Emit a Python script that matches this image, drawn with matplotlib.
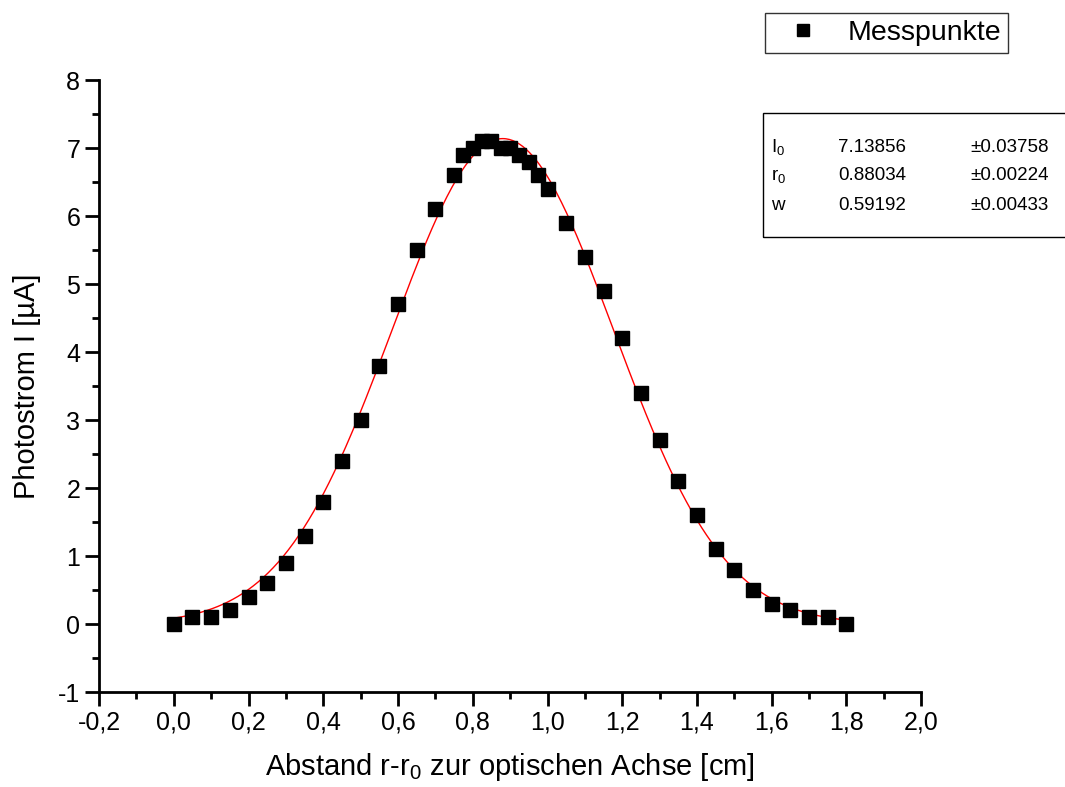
import matplotlib.pyplot as plt
import numpy as np
from matplotlib.ticker import MultipleLocator, FuncFormatter
from matplotlib.patches import Rectangle

plt.rcParams['font.family'] = ['Liberation Sans', 'DejaVu Sans']
plt.rcParams['mathtext.default'] = 'regular'

# Messpunkte
r = [0.0, 0.05, 0.1, 0.15, 0.2, 0.25, 0.3, 0.35, 0.4, 0.45, 0.5, 0.55, 0.6, 0.65,
     0.7, 0.75, 0.775, 0.8, 0.825, 0.85, 0.875, 0.9, 0.925, 0.95, 0.975, 1.0,
     1.05, 1.1, 1.15, 1.2, 1.25, 1.3, 1.35, 1.4, 1.45, 1.5, 1.55, 1.6, 1.65,
     1.7, 1.75, 1.8]
I = [0.0, 0.1, 0.1, 0.2, 0.4, 0.6, 0.9, 1.3, 1.8, 2.4, 3.0, 3.8, 4.7, 5.5,
     6.1, 6.6, 6.9, 7.0, 7.1, 7.1, 7.0, 7.0, 6.9, 6.8, 6.6, 6.4,
     5.9, 5.4, 4.9, 4.2, 3.4, 2.7, 2.1, 1.6, 1.1, 0.8, 0.5, 0.3, 0.2,
     0.1, 0.1, 0.0]

# Fitparameter (Gauss)
param_names = ['I$_0$', 'r$_0$', 'w']
param_values = [7.13856, 0.88034, 0.59192]
param_errors = [0.03758, 0.00224, 0.00433]
I0, r0, w = param_values

fig = plt.figure(figsize=(10.65, 7.87), dpi=100)
ax = fig.add_axes([0.093, 0.1207, 0.772, 0.7776])

rr = np.linspace(0, 1.8, 400)
ax.plot(rr, I0 * np.exp(-2 * (rr - r0) ** 2 / w ** 2), color='red', lw=1.0, zorder=2)
ax.plot(r, I, 's', color='black', markersize=9.5, label='Messpunkte', zorder=3)

ax.set_xlim(-0.2, 2.0)
ax.set_ylim(-1, 8)
ax.xaxis.set_major_locator(MultipleLocator(0.2))
ax.xaxis.set_minor_locator(MultipleLocator(0.1))
ax.yaxis.set_major_locator(MultipleLocator(1))
ax.yaxis.set_minor_locator(MultipleLocator(0.5))
ax.xaxis.set_major_formatter(FuncFormatter(lambda v, p: f"{v:.1f}".replace('.', ',').replace('-0,0', '0,0')))
ax.yaxis.set_major_formatter(FuncFormatter(lambda v, p: f"{v:.0f}"))

for s in ['top', 'right']:
    ax.spines[s].set_visible(False)
for s in ['left', 'bottom']:
    ax.spines[s].set_linewidth(2)
ax.tick_params(which='major', direction='out', length=10, width=2, labelsize=18)
ax.tick_params(which='minor', direction='out', length=5, width=2)

ax.set_xlabel('Abstand r-r$_0$ zur optischen Achse [cm]', fontsize=21, labelpad=12)
ax.set_ylabel('Photostrom I [µA]', fontsize=21, labelpad=12)

leg = fig.legend(loc='upper left', bbox_to_anchor=(765 / 1065, 1 - 13 / 787), fontsize=20.5,
                 frameon=True, fancybox=False, edgecolor='black', borderpad=0.25,
                 borderaxespad=0, handlelength=2.2, handletextpad=0.45, markerscale=0.85)
leg.get_frame().set_linewidth(1)

# Parameterbox
fig.patches.append(Rectangle((763 / 1065, 1 - 237 / 787), 0.4, 124 / 787,
                             transform=fig.transFigure, fill=False,
                             edgecolor='black', lw=1))
rows_y = [147, 176, 205]
for name, val, err, y in zip(param_names, param_values, param_errors, rows_y):
    fy = 1 - y / 787
    fig.text(771 / 1065, fy, name, fontsize=13.5, va='center')
    fig.text(838 / 1065, fy, f"{val:.5f}", fontsize=13.5, va='center')
    fig.text(970 / 1065, fy, f"±{err:.5f}", fontsize=13.5, va='center')

fig.savefig('out.png', dpi=100)
